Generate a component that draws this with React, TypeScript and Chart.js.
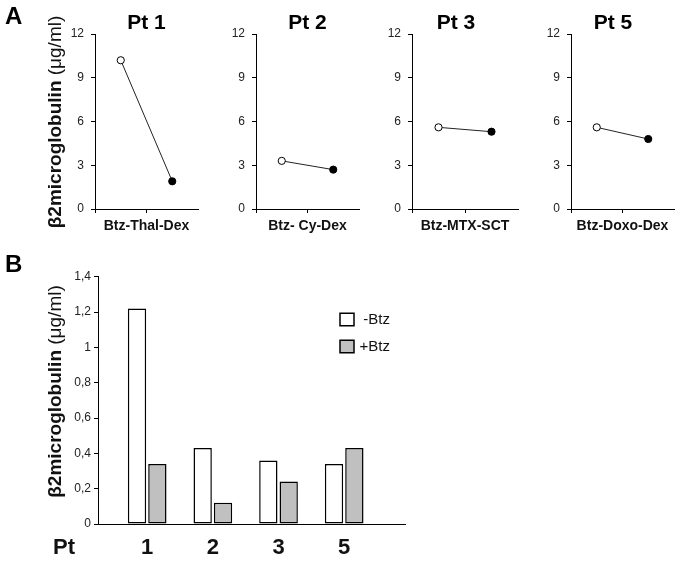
import React, { useEffect, useRef } from 'react';
import { Chart, registerables } from 'chart.js';

Chart.register(...registerables);

const FONT = 'Arial, "Liberation Sans", Helvetica, sans-serif';

// ---------- Panel A data ----------
const panelTitles = ['Pt 1', 'Pt 2', 'Pt 3', 'Pt 5'];
const regimens = ['Btz-Thal-Dex', 'Btz- Cy-Dex', 'Btz-MTX-SCT', 'Btz-Doxo-Dex'];
const timepoints = ['-Btz', '+Btz'];
const pt1Values = [10.2, 1.9];
const pt2Values = [3.3, 2.7];
const pt3Values = [5.6, 5.3];
const pt5Values = [5.6, 4.8];
const yTicksA = [0, 3, 6, 9, 12];

// ---------- Panel B data ----------
const patients = ['1', '2', '3', '5'];
const minusBtz = [1.22, 0.43, 0.36, 0.34];
const plusBtz = [0.34, 0.12, 0.24, 0.43];
const yTickValuesB = [0, 0.2, 0.4, 0.6, 0.8, 1, 1.2, 1.4];
const yTickLabelsB = ['0', '0,2', '0,4', '0,6', '0,8', '1', '1,2', '1,4'];
const seriesNames = ['-Btz', '+Btz'];
const xAxisNameB = 'Pt';
const yTitleMain = 'β2microglobulin';
const yTitleUnit = '(μg/ml)';

const panelValues = [pt1Values, pt2Values, pt3Values, pt5Values];

// layout (page pixels)
const Y_SCALE_W = 30;
const smallLayouts = [
  { left: 0, width: 205, areaLeft: 95, areaRight: 198, titleCenter: 146.5 },
  { left: 225, width: 140, areaLeft: 256, areaRight: 359, titleCenter: 307.5 },
  { left: 380, width: 155, areaLeft: 412, areaRight: 518, titleCenter: 456 },
  { left: 535, width: 152, areaLeft: 571, areaRight: 674, titleCenter: 613 },
];

function drawYTitle(ctx: CanvasRenderingContext2D, x: number, yc: number) {
  ctx.save();
  ctx.translate(x, yc);
  ctx.rotate(-Math.PI / 2);
  ctx.textBaseline = 'alphabetic';
  ctx.textAlign = 'left';
  ctx.fillStyle = '#111';
  const bold = `bold 19px ${FONT}`;
  const norm = `19px ${FONT}`;
  ctx.font = bold;
  const w1 = ctx.measureText(yTitleMain).width;
  ctx.font = norm;
  const unit = ' ' + yTitleUnit;
  const w2 = ctx.measureText(unit).width;
  const start = -(w1 + w2) / 2;
  ctx.font = bold;
  ctx.fillText(yTitleMain, start, 0);
  ctx.font = norm;
  ctx.fillText(unit, start + w1, 0);
  ctx.restore();
}

function drawLetter(ctx: CanvasRenderingContext2D, letter: string, x: number, y: number) {
  ctx.save();
  ctx.font = `bold 24px ${FONT}`;
  ctx.fillStyle = '#000';
  ctx.textBaseline = 'middle';
  ctx.textAlign = 'left';
  ctx.fillText(letter, x, y);
  ctx.restore();
}

const panelAPlugin = {
  id: 'panelAText',
  afterDraw(chart: any) {
    const ctx = chart.ctx;
    drawYTitle(ctx, 61, 122);
    drawLetter(ctx, 'A', 5, 17);
  },
};

function SmallPanel({ idx }: { idx: number }) {
  const ref = useRef<HTMLCanvasElement | null>(null);
  const L = smallLayouts[idx];
  useEffect(() => {
    const s = Y_SCALE_W;
    // extra invisible right box so that a full-width title can sit off-centre
    const r = Math.max(0, s - (L.areaLeft + L.areaRight - 2 * L.titleCenter));
    const fullSize = r > 1;
    const rightBox = fullSize ? r : 0;
    const pl = L.areaLeft - L.left - s;
    const pr = L.left + L.width - L.areaRight - rightBox;
    const chart = new Chart(ref.current as HTMLCanvasElement, {
      type: 'line',
      data: {
        labels: timepoints,
        datasets: [
          {
            data: panelValues[idx],
            borderColor: '#222',
            borderWidth: 1,
            pointRadius: 3.6,
            pointBorderWidth: 1,
            pointBorderColor: '#000',
            pointBackgroundColor: ['#ffffff', '#000000'],
            tension: 0,
            fill: false,
          },
        ],
      },
      options: {
        animation: false,
        responsive: false,
        maintainAspectRatio: false,
        layout: { padding: { left: pl, right: pr, top: 0, bottom: 5 } },
        plugins: {
          legend: { display: false },
          tooltip: { enabled: false },
          title: {
            display: true,
            text: panelTitles[idx],
            color: '#000',
            fullSize: fullSize,
            font: { family: FONT, size: 21, weight: 'bold', lineHeight: 1 },
            padding: { top: 13, bottom: 0 },
          },
        },
        scales: {
          x: {
            type: 'category',
            offset: true,
            grid: {
              offset: true,
              drawOnChartArea: false,
              drawTicks: true,
              tickLength: 4,
              color: (c: any) => (c.index === undefined ? 'rgba(0,0,0,0)' : '#000'),
            },
            border: { display: true, color: '#000', width: 1 },
            ticks: { callback: () => '', padding: 0 },
            title: {
              display: true,
              text: regimens[idx],
              color: '#111',
              font: { family: FONT, size: 14, weight: 'bold' },
              padding: { top: 0, bottom: 0 },
            },
            afterFit: (sc: any) => {
              sc.height = 26;
            },
          },
          y: {
            min: 0,
            max: 12,
            afterBuildTicks: (sc: any) => {
              sc.ticks = yTicksA.map((v) => ({ value: v }));
            },
            ticks: { font: { family: FONT, size: 12 }, color: '#222', padding: 7 },
            grid: { drawOnChartArea: false, tickLength: 4, color: '#000' },
            border: { color: '#000', width: 1 },
            afterFit: (sc: any) => {
              sc.width = s;
            },
          },
          spacer: {
            type: 'linear',
            position: 'right',
            display: rightBox > 0,
            ticks: { display: false },
            grid: { display: false, drawTicks: false },
            border: { display: false },
            afterFit: (sc: any) => {
              sc.width = rightBox;
            },
          },
        },
      } as any,
      plugins: idx === 0 ? [panelAPlugin] : [],
    });
    return () => chart.destroy();
  }, []);
  return (
    <canvas
      ref={ref}
      width={L.width}
      height={240}
      style={{ position: 'absolute', left: L.left, top: 0, width: L.width, height: 240 }}
    />
  );
}

const legendPlacePlugin = {
  id: 'legendPlace',
  afterLayout(chart: any) {
    const lg = chart.legend;
    if (!lg) return;
    lg.left = 328;
    lg.right = 390;
    lg.top = 55;
    lg.bottom = 300;
    lg.width = lg.right - lg.left;
    lg.height = lg.bottom - lg.top;
  },
};

const panelBPlugin = {
  id: 'panelBText',
  afterDraw(chart: any) {
    const ctx = chart.ctx;
    drawYTitle(ctx, 61, 146.5);
    drawLetter(ctx, 'B', 5, 20);
    ctx.save();
    ctx.font = `bold 22px ${FONT}`;
    ctx.fillStyle = '#111';
    ctx.textBaseline = 'middle';
    ctx.textAlign = 'center';
    ctx.fillText(xAxisNameB, 64, chart.chartArea.bottom + 11 + 13.2);
    ctx.restore();
  },
};

function BarPanel() {
  const ref = useRef<HTMLCanvasElement | null>(null);
  useEffect(() => {
    const chart = new Chart(ref.current as HTMLCanvasElement, {
      type: 'bar',
      data: {
        datasets: [
          {
            label: seriesNames[0],
            data: minusBtz.map((v, i) => ({ x: i, y: v })),
            backgroundColor: '#ffffff',
            borderColor: '#000',
            borderWidth: 1.5,
            borderSkipped: false,
            categoryPercentage: 0.62,
            barPercentage: 0.9,
          },
          {
            label: seriesNames[1],
            data: plusBtz.map((v, i) => ({ x: i, y: v })),
            backgroundColor: '#c0c0c0',
            borderColor: '#000',
            borderWidth: 1.5,
            borderSkipped: false,
            categoryPercentage: 0.62,
            barPercentage: 0.9,
          },
        ],
      },
      options: {
        animation: false,
        responsive: false,
        maintainAspectRatio: false,
        layout: { padding: { left: 70, right: 274, top: 31.7, bottom: 5 } },
        plugins: {
          tooltip: { enabled: false },
          title: { display: false },
          legend: {
            display: true,
            position: 'chartArea',
            align: 'start',
            labels: {
              font: { family: FONT, size: 15 },
              color: '#111',
              boxWidth: 14,
              boxHeight: 12.5,
              padding: 12,
              textAlign: 'right',
            },
          },
        },
        scales: {
          x: {
            type: 'linear',
            offset: false,
            min: -0.749,
            max: 3.926,
            afterBuildTicks: (sc: any) => {
              sc.ticks = patients.map((_, i) => ({ value: i }));
            },
            ticks: {
              callback: (v: any) => patients[v] ?? '',
              font: { family: FONT, size: 22, weight: 'bold' },
              color: '#111',
              padding: 11,
              autoSkip: false,
              maxRotation: 0,
            },
            grid: { display: false, drawTicks: false, offset: false },
            border: { display: true, color: '#000', width: 1 },
            afterFit: (sc: any) => {
              sc.height = 34;
            },
          },
          y: {
            min: 0,
            max: 1.4,
            afterBuildTicks: (sc: any) => {
              sc.ticks = yTickValuesB.map((v) => ({ value: v }));
            },
            ticks: {
              callback: (_v: any, i: number) => yTickLabelsB[i],
              font: { family: FONT, size: 12 },
              color: '#222',
              padding: 3,
            },
            grid: { drawOnChartArea: false, tickLength: 4, color: '#000' },
            border: { color: '#000', width: 1 },
            afterFit: (sc: any) => {
              sc.width = 28;
            },
          },
        },
      } as any,
      plugins: [legendPlacePlugin, panelBPlugin],
    });
    return () => chart.destroy();
  }, []);
  return (
    <canvas
      ref={ref}
      width={679}
      height={318}
      style={{ position: 'absolute', left: 0, top: 245, width: 679, height: 318 }}
    />
  );
}

export default function App() {
  return (
    <div
      style={{
        position: 'absolute',
        left: 0,
        top: 0,
        width: 679,
        height: 563,
        background: '#fff',
        overflow: 'hidden',
      }}
    >
      {[0, 1, 2, 3].map((i) => (
        <SmallPanel key={i} idx={i} />
      ))}
      <BarPanel />
    </div>
  );
}
